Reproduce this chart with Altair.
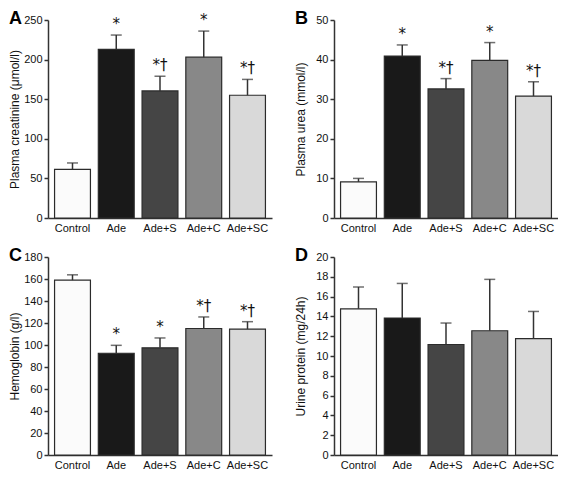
import altair as alt
import pandas as pd

groups = ["Control", "Ade", "Ade+S", "Ade+C", "Ade+SC"]
bar_colors = ["#fbfbfb", "#191919", "#454545", "#888888", "#d9d9d9"]

creat_mean = [61.5, 213, 160.5, 203, 155]
creat_top = [69.5, 231, 179, 236, 175]
creat_sig = ["", "*", "*†", "*", "*†"]

urea_mean = [9.1, 40.9, 32.6, 39.8, 30.8]
urea_top = [10.0, 43.7, 35.2, 44.3, 34.4]
urea_sig = ["", "*", "*†", "*", "*†"]

hb_mean = [159, 92.5, 97.4, 115, 114.5]
hb_top = [163.8, 99.7, 106.4, 125.5, 121.2]
hb_sig = ["", "*", "*", "*†", "*†"]

prot_mean = [14.77, 13.84, 11.16, 12.55, 11.75]
prot_top = [16.97, 17.33, 13.33, 17.74, 14.5]
prot_sig = ["", "", "", "", ""]

FONT = "Liberation Sans"
AX = "#333333"
W, H = 224, 198


def panel(letter, mean, top, sig, title, dmax, step):
    df = pd.DataFrame({"g": groups, "m": mean, "e": top, "s": sig})
    xs = alt.X(
        "g:N",
        sort=groups,
        scale=alt.Scale(paddingInner=0.18, paddingOuter=0.15),
        axis=alt.Axis(title=None, labelAngle=0, ticks=False, labelPadding=4,
                      labelFontSize=11, domainColor=AX, domainWidth=1.5,
                      labelColor="#111111", labelFont=FONT),
    )
    ys = alt.Scale(domain=[0, dmax], nice=False)
    vals = list(range(0, dmax + step, step))
    yaxis = alt.Axis(
        title=title, values=vals, tickCount=len(vals) + 2, grid=False,
        labelOverlap=False, labelFlush=False,
        tickSize=4, tickColor=AX, tickWidth=1.5, domainColor=AX, domainWidth=1.5,
        labelFontSize=11, labelPadding=2, labelColor="#111111", labelFont=FONT,
        titleFont=FONT, titleFontSize=12, titleFontWeight="normal",
        titleColor="#111111", titlePadding=2, minExtent=25, maxExtent=25,
    )
    base = alt.Chart(df)
    bars = base.mark_bar(stroke="#2b2b2b", strokeWidth=1.2).encode(
        x=xs,
        y=alt.Y("m:Q", scale=ys, axis=yaxis),
        color=alt.Color("g:N", scale=alt.Scale(domain=groups, range=bar_colors), legend=None),
    )
    rule = base.mark_rule(color=AX, strokeWidth=1.5).encode(
        x=alt.X("g:N", sort=groups), y="m:Q", y2="e:Q"
    )
    cap = base.mark_tick(color=AX, thickness=1.5, size=11).encode(
        x=alt.X("g:N", sort=groups), y="e:Q"
    )
    stars = base.mark_text(baseline="bottom", dy=-3, fontSize=15, font="DejaVu Sans", fill="#111111").encode(
        x=alt.X("g:N", sort=groups), y="e:Q", text="s:N"
    )
    lab = alt.Chart(pd.DataFrame({"t": [letter]})).mark_text(
        align="left", baseline="top", fontSize=18, fontWeight="bold", font=FONT, fill="#000000"
    ).encode(x=alt.value(-39), y=alt.value(-10), text="t:N")
    return alt.layer(bars, rule, cap, stars, lab).properties(width=W, height=H)


pA = panel("A", creat_mean, creat_top, creat_sig, "Plasma creatinine (μmol/l)", 250, 50)
pB = panel("B", urea_mean, urea_top, urea_sig, "Plasma urea (mmol/l)", 50, 10)
pC = panel("C", hb_mean, hb_top, hb_sig, "Hemoglobin (g/l)", 180, 20)
pD = panel("D", prot_mean, prot_top, prot_sig, "Urine protein (mg/24h)", 20, 2)

chart = alt.concat(pA, pB, pC, pD, columns=2, spacing={"row": 14, "column": 22}).properties(
    padding={"top": 2, "left": 0, "right": 0, "bottom": 0}
).configure_view(stroke=None).resolve_scale(y="independent", color="independent")

chart.save("out.html", embed_options={"renderer": "svg", "actions": False})
